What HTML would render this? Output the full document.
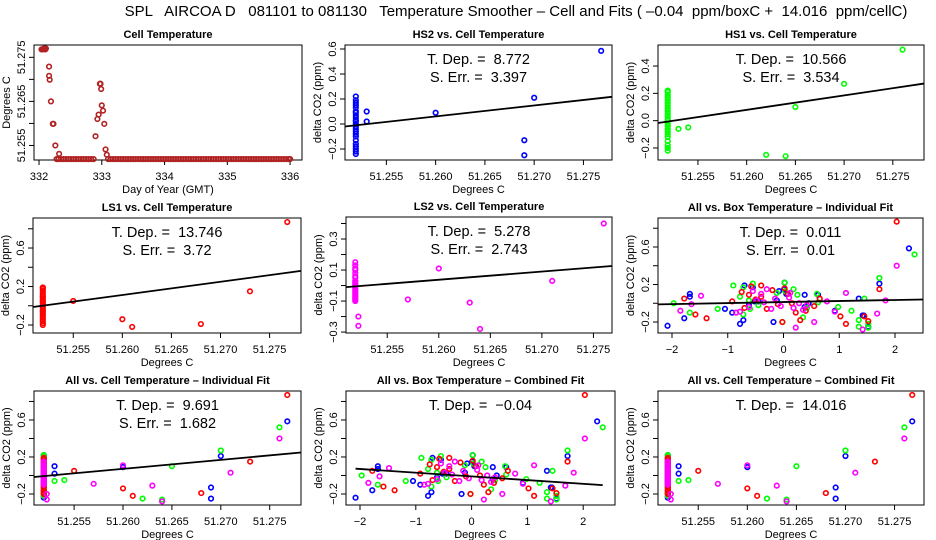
<!DOCTYPE html>
<html><head><meta charset="utf-8">
<style>
html,body{margin:0;padding:0;background:#fff;}
svg{display:block;font-family:"Liberation Sans",Arial,sans-serif;}
svg text{white-space:pre;}
</style></head>
<body>
<svg id="chart" width="936" height="540" viewBox="0 0 936 540">
<text x="516" y="16" text-anchor="middle" font-size="15" xml:space="preserve">SPL   AIRCOA D   081101 to 081130   Temperature Smoother – Cell and Fits ( –0.04  ppm/boxC +  14.016  ppm/cellC)</text>
</svg>
<script>
// ---- Panel 1: cell temperature time series ----
const excursionDays = [332.04,332.06,332.08,332.10,332.11,332.16,332.16,332.17,332.19,332.22,332.23,332.26,332.32,332.90,332.93,332.95,332.97,332.98,332.99,333.00,333.02,333.04,333.06,333.08];
const excursionTemps = [51.2768,51.2768,51.2770,51.2768,51.2770,51.2729,51.2708,51.2699,51.2650,51.2599,51.2599,51.2550,51.2531,51.2571,51.2610,51.2620,51.2690,51.2690,51.2678,51.2641,51.2629,51.2599,51.2541,51.2529];
const baselineDays = [332.28,332.31,332.35,332.39,332.43,332.47,332.51,332.55,332.59,332.63,332.67,332.71,332.75,332.79,332.83,332.87,
333.10,333.14,333.18,333.22,333.26,333.30,333.34,333.38,333.42,333.46,333.50,333.54,333.58,333.62,333.66,333.70,333.74,333.78,333.82,333.86,333.90,333.94,333.98,
334.02,334.06,334.10,334.14,334.18,334.22,334.26,334.30,334.34,334.38,334.42,334.46,334.50,334.54,334.58,334.62,334.66,334.70,334.74,334.78,334.82,334.86,334.90,334.94,334.98,
335.02,335.06,335.10,335.14,335.18,335.22,335.26,335.30,335.34,335.38,335.42,335.46,335.50,335.54,335.58,335.62,335.66,335.70,335.74,335.78,335.82,335.86,335.90,335.94,335.98,336.00];
const baselineTemp = 51.2519;

// ---- Species observations: cell temp, box temp deviation, delta CO2 ----
const hs2Cell = [51.2519,51.2519,51.2519,51.2519,51.2519,51.2519,51.2519,51.2519,51.2519,51.2519,51.2519,51.2519,51.2519,51.2519,51.2519,51.2519,51.2519,51.2519,51.2519,51.2519,51.2519,51.2519,51.2519,51.253,51.253,51.260,51.269,51.269,51.270,51.2768];
const hs2Box = [-2.08,-0.78,-0.18,-0.72,-1.78,1.42,-0.92,0.92,-1.05,0.38,-0.62,0.45,-0.45,-0.12,1.35,-1.68,0.62,0.05,-0.08,0.01,-0.55,-0.70,0.02,-1.68,-0.52,0.38,1.44,1.52,1.72,2.25];
const hs2D = [-0.24,-0.22,-0.20,-0.18,-0.16,-0.13,-0.10,-0.08,-0.06,-0.04,-0.02,0.00,0.02,0.03,0.05,0.07,0.09,0.10,0.13,0.15,0.17,0.19,0.22,0.10,0.02,0.09,-0.13,-0.25,0.21,0.585];

const hs1Cell = [51.2519,51.2519,51.2519,51.2519,51.2519,51.2519,51.2519,51.2519,51.2519,51.2519,51.2519,51.2519,51.2519,51.2519,51.2519,51.2519,51.2519,51.2519,51.2519,51.2519,51.2519,51.2519,51.2519,51.253,51.254,51.262,51.264,51.265,51.270,51.276];
const hs1Box = [1.52,-0.02,1.35,0.35,-0.72,-1.68,1.22,-1.18,0.98,-0.45,-1.97,0.62,-0.62,1.45,-0.78,0.25,-0.12,0.03,0.18,-0.72,-0.90,-0.55,0.02,-0.60,0.42,1.35,1.52,0.60,1.72,2.35];
const hs1D = [-0.22,-0.20,-0.18,-0.15,-0.12,-0.10,-0.08,-0.06,-0.04,-0.02,0.00,0.01,0.03,0.05,0.07,0.09,0.11,0.13,0.15,0.17,0.19,0.21,0.22,-0.06,-0.05,-0.25,-0.26,0.10,0.27,0.52];

const ls1Cell = [51.2519,51.2519,51.2519,51.2519,51.2519,51.2519,51.2519,51.2519,51.2519,51.2519,51.2519,51.2519,51.2519,51.2519,51.2519,51.2519,51.2519,51.2519,51.2519,51.2519,51.2519,51.2519,51.2519,51.255,51.260,51.261,51.268,51.273,51.2768];
const ls1Box = [-0.02,0.30,-1.38,1.45,-1.58,0.22,0.40,-0.30,-0.70,0.55,-0.10,0.15,-0.92,-0.50,0.65,-0.40,-0.62,0.08,-0.75,-0.20,0.02,-0.58,-0.40,-1.78,1.02,1.12,1.52,1.72,2.03];
const ls1D = [-0.20,-0.18,-0.16,-0.14,-0.12,-0.10,-0.08,-0.06,-0.05,-0.03,-0.01,0.00,0.02,0.04,0.05,0.07,0.09,0.10,0.12,0.14,0.16,0.18,0.19,0.05,-0.14,-0.22,-0.19,0.15,0.87];

const ls2Cell = [51.2522,51.2522,51.2519,51.2519,51.2519,51.2519,51.2519,51.2519,51.2519,51.2519,51.2519,51.2519,51.2519,51.2519,51.2519,51.2519,51.2519,51.2519,51.2519,51.2519,51.2519,51.2519,51.2519,51.257,51.260,51.263,51.264,51.271,51.276];
const ls2Box = [0.22,0.55,-0.85,0.92,-1.85,0.35,-0.22,0.18,-0.62,-0.05,0.42,-1.65,0.28,-0.35,0.78,-0.48,-0.15,0.10,-1.48,-0.40,0.12,-0.55,-0.30,-0.78,1.12,1.68,1.42,1.83,2.03];
const ls2D = [-0.26,-0.20,-0.10,-0.09,-0.08,-0.07,-0.06,-0.05,-0.04,-0.03,-0.02,-0.01,0.00,0.01,0.02,0.03,0.05,0.06,0.08,0.10,0.11,0.13,0.15,-0.09,0.11,-0.11,-0.28,0.03,0.40];

// fit slopes / printed values
const slopes = {hs2:8.772, hs1:10.566, ls1:13.746, ls2:5.278, boxInd:0.011, cellInd:9.691, boxComb:-0.04, cellComb:14.016};
const stdErrs = {hs2:3.397, hs1:3.534, ls1:3.72, ls2:2.743, boxInd:0.01, cellInd:1.682};
const fitX0 = {hs2:51.2531, hs1:51.2525, ls1:51.25185, ls2:51.2529, cellInd:51.2526};
const boxIntercepts = {boxInd:0.013, boxComb:-0.01};

const cellTicks = [51.255,51.260,51.265,51.270,51.275];
const cellTickLabels = ["51.255","51.260","51.265","51.270","51.275"];
const boxTicks = [-2,-1,0,1,2];
const boxTickLabels = ["−2","−1","0","1","2"];
const dayTicks = [332,333,334,335,336];

const NS = "http://www.w3.org/2000/svg";
const svg = document.getElementById("chart");
function mk(tag, attrs, parent){
  const e = document.createElementNS(NS, tag);
  for (const k in attrs) e.setAttribute(k, attrs[k]);
  (parent||svg).appendChild(e);
  return e;
}

function panel(cfg){
  const g = mk("g", {});
  
  
  const b = cfg.box;
  const sx = v => b.x + (v - cfg.xlim[0])/(cfg.xlim[1]-cfg.xlim[0])*b.w;
  const sy = v => b.y + b.h - (v - cfg.ylim[0])/(cfg.ylim[1]-cfg.ylim[0])*b.h;
  const t = mk("text", {x:b.x+b.w/2, y:b.y-7, "text-anchor":"middle", "font-size":"11", "font-weight":"bold"}, g);
  t.textContent = cfg.title;
  
  
  const r = mk("rect", {x:b.x, y:b.y, width:b.w, height:b.h, fill:"none", stroke:"#000", "stroke-width":"1"}, g);
  
  
  const xa = mk("g", {}, g);
  
  
  const xt = cfg.xticks;
  mk("line", {x1:sx(xt[0]), x2:sx(xt[xt.length-1]), y1:b.y+b.h, y2:b.y+b.h, stroke:"#000"}, xa);
  xt.forEach((v,i)=>{
    mk("line", {x1:sx(v), x2:sx(v), y1:b.y+b.h, y2:b.y+b.h+5, stroke:"#000"}, xa);
    const l = mk("text", {x:sx(v), y:b.y+b.h+20, "text-anchor":"middle", "font-size":"11"}, xa);
    l.textContent = cfg.xlabels[i];
    
    
  });
  const xl = mk("text", {x:b.x+b.w/2, y:b.y+b.h+33, "text-anchor":"middle", "font-size":"11"}, g);
  xl.textContent = cfg.xlab;
  
  
  const ya = mk("g", {}, g);
  
  
  const yt = cfg.yticks;
  mk("line", {x1:b.x, x2:b.x, y1:sy(yt[0]), y2:sy(yt[yt.length-1]), stroke:"#000"}, ya);
  yt.forEach((v,i)=>{
    mk("line", {x1:b.x-5, x2:b.x, y1:sy(v), y2:sy(v), stroke:"#000"}, ya);
    const lab = cfg.ylabels[i];
    if (lab){
      const l = mk("text", {x:0, y:0, "text-anchor":"middle", "font-size":"11",
        transform:`translate(${b.x-9},${sy(v)}) rotate(-90)`}, ya);
      l.textContent = lab;
      
      
    }
  });
  const yl = mk("text", {x:0, y:0, "text-anchor":"middle", "font-size":"11",
    transform:`translate(${b.x-24},${b.y+b.h/2}) rotate(-90)`}, g);
  yl.textContent = cfg.ylab;
  
  
  cfg.series.forEach(s=>{
    const sg = mk("g", {}, g);
    
    
    s.x.forEach((xv,i)=>{
      const c = mk("circle", {cx:sx(xv), cy:sy(s.y[i]), r:2.3, fill:"none", stroke:s.color, "stroke-width":"1.6"}, sg);
      
      
    });
  });
  if (cfg.fit){
    const f = cfg.fit;
    const ln = mk("line", {x1:sx(f.x0), y1:sy(f.y0), x2:sx(f.x1), y2:sy(f.y1), stroke:"#000", "stroke-width":"1.8"}, g);
    
    
  }
  (cfg.notes||[]).forEach((n,i)=>{
    const a = mk("text", {x:b.x+b.w/2, y:b.y+19+i*18, "text-anchor":"middle", "font-size":"14.5", "xml:space":"preserve"}, g);
    a.textContent = n;
    
    
  });
}

const RED="#ff0000", GREEN="#00ff00", BLUE="#0000ff", MAG="#ff00ff";
const ylabCO2 = "delta CO2 (ppm)";
const yt6 = [-0.2,0,0.2,0.4,0.6,0.8];
const yl6 = ["−0.2","","0.2","","0.6",""];
function cellFit(key, xl){ return {x0:xl[0], y0:slopes[key]*(xl[0]-fitX0[key]), x1:xl[1], y1:slopes[key]*(xl[1]-fitX0[key])}; }

const p1Days = excursionDays.concat(baselineDays);
const p1Temps = excursionTemps.concat(baselineDays.map(()=>baselineTemp));
panel({name:"cell-temperature-panel", box:{x:34,y:45,w:268,h:115}, xlim:[331.92,336.19], ylim:[51.2517,51.2778],
  title:"Cell Temperature", xlab:"Day of Year (GMT)", ylab:"Degrees C",
  xticks:dayTicks, xlabels:dayTicks.map(String),
  yticks:[51.255,51.260,51.265,51.270,51.275], ylabels:["51.255","","51.265","","51.275"],
  series:[{name:"cell-temp-series", x:p1Days, y:p1Temps, color:"#b22222"}]});

let xl2=[51.2508,51.2779];
panel({name:"hs2-panel", box:{x:345,y:45,w:267,h:115}, xlim:xl2, ylim:[-0.288,0.632],
  title:"HS2 vs. Cell Temperature", xlab:"Degrees C", ylab:ylabCO2,
  xticks:cellTicks, xlabels:cellTickLabels, yticks:[-0.2,0,0.2,0.4,0.6], ylabels:["−0.2","0.0","0.2","0.4","0.6"],
  series:[{name:"hs2-points", x:hs2Cell, y:hs2D, color:BLUE}], fit:cellFit("hs2",xl2),
  notes:["T. Dep. =  "+slopes.hs2, "S. Err. =  "+stdErrs.hs2]});

let xl3=[51.2509,51.2782];
panel({name:"hs1-panel", box:{x:658,y:45,w:266,h:115}, xlim:xl3, ylim:[-0.288,0.554],
  title:"HS1 vs. Cell Temperature", xlab:"Degrees C", ylab:ylabCO2,
  xticks:cellTicks, xlabels:cellTickLabels, yticks:[-0.2,0,0.2,0.4], ylabels:["−0.2","0.0","0.2","0.4"],
  series:[{name:"hs1-points", x:hs1Cell, y:hs1D, color:GREEN}], fit:cellFit("hs1",xl3),
  notes:["T. Dep. =  "+slopes.hs1, "S. Err. =  "+stdErrs.hs1]});

let xl4=[51.2509,51.2782];
panel({name:"ls1-panel", box:{x:33,y:218,w:268,h:115}, xlim:xl4, ylim:[-0.283,0.912],
  title:"LS1 vs. Cell Temperature", xlab:"Degrees C", ylab:ylabCO2,
  xticks:cellTicks, xlabels:cellTickLabels, yticks:yt6, ylabels:yl6,
  series:[{name:"ls1-points", x:ls1Cell, y:ls1D, color:RED}], fit:cellFit("ls1",xl4),
  notes:["T. Dep. =  "+slopes.ls1, "S. Err. =  "+stdErrs.ls1]});

let xl5=[51.2510,51.2768];
panel({name:"ls2-panel", box:{x:346,y:217,w:266,h:116}, xlim:xl5, ylim:[-0.306,0.442],
  title:"LS2 vs. Cell Temperature", xlab:"Degrees C", ylab:ylabCO2,
  xticks:cellTicks, xlabels:cellTickLabels, yticks:[-0.3,-0.2,-0.1,0,0.1,0.2,0.3,0.4], ylabels:["−0.3","","−0.1","","0.1","","0.3",""],
  series:[{name:"ls2-points", x:ls2Cell, y:ls2D, color:MAG}], fit:cellFit("ls2",xl5),
  notes:["T. Dep. =  "+slopes.ls2, "S. Err. =  "+stdErrs.ls2]});

function allSeries(useBox){
  return [
    {name:"hs2-points", x:useBox?hs2Box:hs2Cell, y:hs2D, color:BLUE},
    {name:"hs1-points", x:useBox?hs1Box:hs1Cell, y:hs1D, color:GREEN},
    {name:"ls1-points", x:useBox?ls1Box:ls1Cell, y:ls1D, color:RED},
    {name:"ls2-points", x:useBox?ls2Box:ls2Cell, y:ls2D, color:MAG}];
}
const yAll=[-0.319,0.913];

panel({name:"all-box-individual-panel", box:{x:658,y:218,w:265,h:115}, xlim:[-2.251,2.502], ylim:[-0.317,0.909],
  title:"All vs. Box Temperature – Individual Fit", xlab:"Degrees C", ylab:ylabCO2,
  xticks:boxTicks, xlabels:boxTickLabels, yticks:yt6, ylabels:yl6,
  series:allSeries(true),
  fit:{x0:-2.251, y0:boxIntercepts.boxInd+slopes.boxInd*-2.251, x1:2.502, y1:boxIntercepts.boxInd+slopes.boxInd*2.502},
  notes:["T. Dep. =  "+slopes.boxInd, "S. Err. =  "+stdErrs.boxInd]});

let xl7=[51.2509,51.2782];
panel({name:"all-cell-individual-panel", box:{x:34,y:391,w:267,h:114}, xlim:xl7, ylim:yAll,
  title:"All vs. Cell Temperature – Individual Fit", xlab:"Degrees C", ylab:ylabCO2,
  xticks:cellTicks, xlabels:cellTickLabels, yticks:yt6, ylabels:yl6,
  series:allSeries(false), fit:cellFit("cellInd",xl7),
  notes:["T. Dep. =  "+slopes.cellInd, "S. Err. =  "+stdErrs.cellInd]});

panel({name:"all-box-combined-panel", box:{x:346,y:391,w:269,h:114}, xlim:[-2.251,2.57], ylim:yAll,
  title:"All vs. Box Temperature – Combined Fit", xlab:"Degrees C", ylab:ylabCO2,
  xticks:boxTicks, xlabels:boxTickLabels, yticks:yt6, ylabels:yl6,
  series:allSeries(true),
  fit:{x0:-2.08, y0:boxIntercepts.boxComb+slopes.boxComb*-2.08, x1:2.35, y1:boxIntercepts.boxComb+slopes.boxComb*2.35},
  notes:["T. Dep. =  −0.04"]});

panel({name:"all-cell-combined-panel", box:{x:658,y:391,w:266,h:114}, xlim:[51.2509,51.2780], ylim:yAll,
  title:"All vs. Cell Temperature – Combined Fit", xlab:"Degrees C", ylab:ylabCO2,
  xticks:cellTicks, xlabels:cellTickLabels, yticks:yt6, ylabels:yl6,
  series:allSeries(false),
  notes:["T. Dep. =  "+slopes.cellComb]});
</script>
</body></html>
